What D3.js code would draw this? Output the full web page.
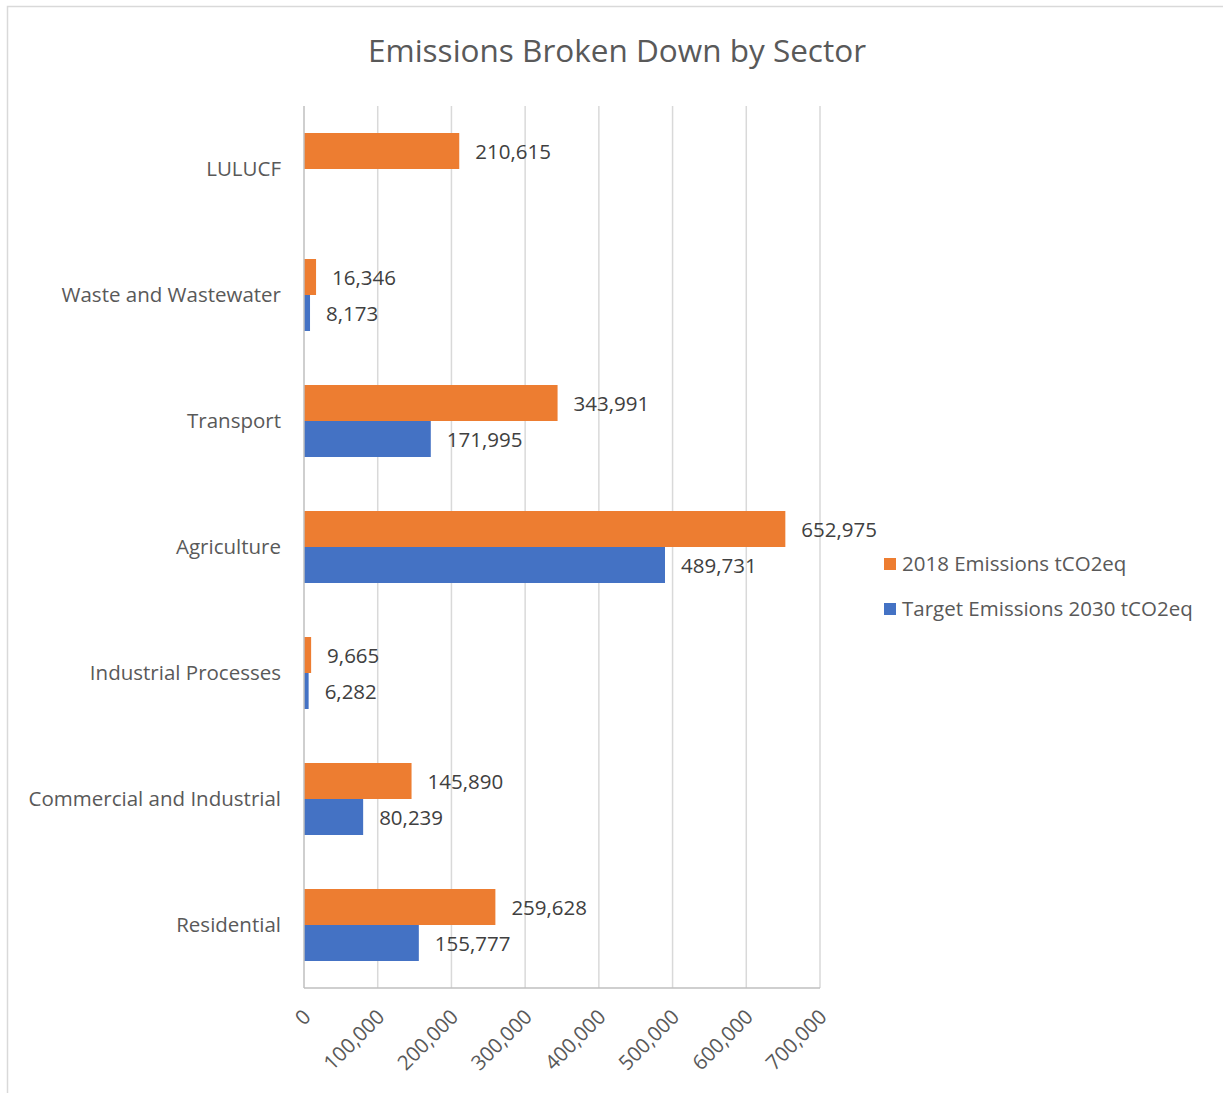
<!DOCTYPE html>
<html>
<meta charset="utf-8">
<head>
  <script src="https://d3js.org/d3.v7.min.js"></script>
  <style>
    body { margin: 0; background: #fff; }
    text { font-family: "Open Sans", sans-serif; }
  </style>
</head>
<body>
<svg id="chart" width="1223" height="1093"></svg>
<script>
  var sectors = ["LULUCF", "Waste and Wastewater", "Transport", "Agriculture",
                 "Industrial Processes", "Commercial and Industrial", "Residential"];
  var emissions2018 = [210615, 16346, 343991, 652975, 9665, 145890, 259628];
  var target2030 = [null, 8173, 171995, 489731, 6282, 80239, 155777];
  var seriesNames = ["2018 Emissions tCO2eq", "Target Emissions 2030 tCO2eq"];
  var tickValues = [0, 100000, 200000, 300000, 400000, 500000, 600000, 700000];

  var colors = ["#ED7D31", "#4472C4"];
  var svg = d3.select("#chart");
  var fs = "20.5px";

  // outer chart border (cropped at right and bottom in the picture)
  svg.append("rect").attr("x", 7.5).attr("y", 6.5).attr("width", 1300).attr("height", 1200)
    .attr("fill", "none").attr("stroke", "#d9d9d9").attr("stroke-width", 1.5);

  svg.append("text").attr("x", 617).attr("y", 62).attr("text-anchor", "middle")
    .style("font-size", "31.5px").style("fill", "#595959").text("Emissions Broken Down by Sector");

  var pLeft = 304, pRight = 820, pTop = 106, pBottom = 988;
  var x = d3.scaleLinear().domain([0, 700000]).range([pLeft, pRight]);
  var y = d3.scaleBand().domain(sectors).range([pTop, pBottom]);
  var inner = d3.scaleBand().domain(seriesNames).range([0, 72]);

  // gridlines
  svg.append("g").selectAll("line").data(tickValues.slice(1)).join("line")
    .attr("x1", d => x(d)).attr("x2", d => x(d)).attr("y1", pTop).attr("y2", pBottom)
    .attr("stroke", "#d9d9d9").attr("stroke-width", 1.5);

  var rows = sectors.map(function(s, i) {
    return [{ s: s, k: seriesNames[0], v: emissions2018[i], c: colors[0] },
            { s: s, k: seriesNames[1], v: target2030[i], c: colors[1] }];
  }).flat().filter(d => d.v != null);

  function barY(d) { return y(d.s) + y.bandwidth() / 2 - 36 + inner(d.k); }

  svg.append("g").selectAll("rect").data(rows).join("rect")
    .attr("x", x(0)).attr("y", barY)
    .attr("width", d => x(d.v) - x(0)).attr("height", inner.bandwidth())
    .attr("fill", d => d.c);

  var fmt = d3.format(",");
  svg.append("g").selectAll("text").data(rows).join("text")
    .attr("x", d => x(d.v) + 16).attr("y", d => barY(d) + 19).attr("dy", "0.35em")
    .style("font-size", fs).style("fill", "#404040").text(d => fmt(d.v));

  // axis lines
  svg.append("line").attr("x1", pLeft).attr("x2", pLeft).attr("y1", pTop).attr("y2", pBottom)
    .attr("stroke", "#bfbfbf").attr("stroke-width", 1.5);
  svg.append("line").attr("x1", pLeft).attr("x2", pRight).attr("y1", pBottom).attr("y2", pBottom)
    .attr("stroke", "#bfbfbf").attr("stroke-width", 1.5);

  // category labels
  svg.append("g").selectAll("text").data(sectors).join("text")
    .attr("x", 281).attr("y", d => y(d) + y.bandwidth() / 2).attr("dy", "0.35em")
    .attr("text-anchor", "end").style("font-size", fs).style("fill", "#595959").text(d => d);

  // rotated tick labels
  svg.append("g").selectAll("text").data(tickValues).join("text")
    .attr("transform", d => "translate(" + (x(d) + 3) + "," + (pBottom + 25) + ") rotate(-45)")
    .attr("text-anchor", "end").attr("dy", "0.35em")
    .style("font-size", fs).style("fill", "#595959").text(d => fmt(d));

  // legend
  var lg = svg.append("g").selectAll("g").data(seriesNames).join("g")
    .attr("transform", (d, i) => "translate(884," + (564 + i * 45) + ")");
  lg.append("rect").attr("x", 0).attr("y", -6).attr("width", 12).attr("height", 12)
    .attr("fill", (d, i) => colors[i]);
  lg.append("text").attr("x", 18).attr("dy", "0.35em").style("font-size", fs)
    .style("fill", "#595959").text(d => d);
</script>
</body>
</html>
